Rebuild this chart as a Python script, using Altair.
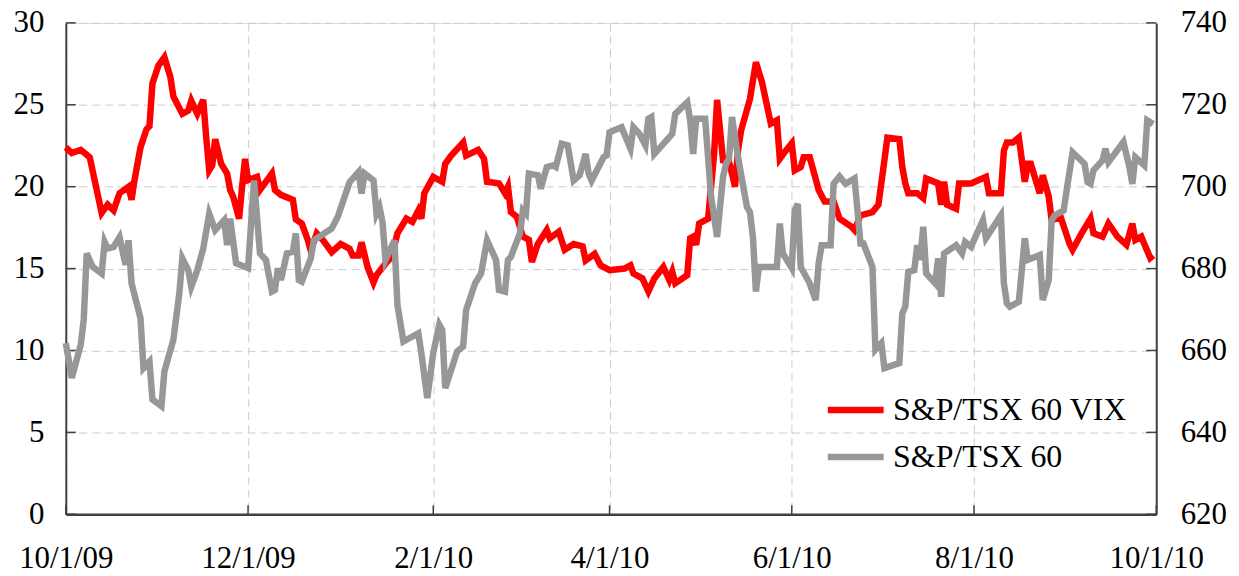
import altair as alt
import pandas as pd

START = "2009-10-01"

# Days since 10/1/09 and values
VIX_DAYS = [0, 2, 5, 8, 12, 14, 16, 18, 21, 22, 23, 25, 27, 28, 29, 31, 33, 35, 36, 39,
            41, 42, 44, 46, 47, 48, 49, 50, 52, 54, 55, 56, 58, 59, 60, 61, 64, 65, 69, 70,
            72, 76, 77, 79, 81, 82, 84, 86, 89, 92, 95, 96, 98, 99, 101, 103, 104, 107, 109, 111,
            114, 116, 118, 119, 120, 123, 126, 127, 129, 133, 134, 138, 140, 141, 145, 147, 148, 149, 151, 153,
            155, 156, 158, 161, 162, 165, 167, 170, 173, 174, 177, 179, 182, 187, 189, 190, 193, 195, 197, 200,
            202, 203, 204, 208, 209, 210, 211, 212, 215, 217, 218, 220, 222, 223, 224, 225, 226, 229, 231, 233,
            236, 238, 239, 241, 243, 244, 246, 247, 249, 252, 254, 257, 259, 263, 264, 266, 270, 272, 274, 275,
            279, 280, 281, 282, 285, 287, 288, 292, 293, 294, 295, 298, 299, 303, 308, 309, 313, 314, 315, 317,
            319, 321, 322, 323, 326, 327, 329, 330, 333, 336, 337, 340, 343, 344, 347, 349, 352, 355, 357, 358,
            360, 361, 363, 364]
VIX_VALUES = [22.4, 22.05, 22.25, 21.8, 18.4, 18.9, 18.55, 19.6, 20.0, 19.2, 20.4, 22.4, 23.5, 23.7, 26.3, 27.4, 27.9, 26.7, 25.5, 24.45,
              24.65, 25.25, 24.45, 25.3, 23.0, 21.0, 21.3, 22.9, 21.4, 20.8, 19.8, 19.4, 18.05, 20.0, 21.7, 20.4, 20.6, 19.8, 20.8, 19.8,
              19.5, 19.2, 18.0, 17.75, 16.75, 16.1, 17.15, 16.75, 16.0, 16.5, 16.2, 15.8, 15.8, 16.6, 15.1, 14.15, 14.6, 15.3, 15.7, 17.15,
              18.05, 17.85, 18.55, 18.05, 19.6, 20.6, 20.3, 21.4, 21.9, 22.7, 21.9, 22.25, 21.7, 20.3, 20.2, 19.6, 20.0, 18.45, 18.15, 16.95,
              16.75, 15.4, 16.5, 17.35, 16.85, 17.25, 16.15, 16.5, 16.35, 15.5, 15.9, 15.2, 14.9, 15.0, 15.2, 14.7, 14.4, 13.6, 14.4, 15.1,
              14.3, 14.8, 14.1, 14.6, 16.85, 16.95, 16.45, 17.75, 18.05, 22.0, 25.3, 21.6, 21.5, 20.8, 20.0, 22.2, 23.4, 25.35, 27.6, 26.4,
              23.85, 24.05, 21.7, 22.2, 22.65, 21.0, 21.2, 21.8, 21.8, 19.8, 19.1, 19.1, 18.05, 17.55, 17.35, 18.25, 18.45, 18.9, 21.6, 23.0,
              22.9, 21.2, 20.2, 19.6, 19.6, 19.3, 20.5, 20.2, 18.9, 20.3, 18.9, 18.65, 20.2, 20.2, 20.6, 19.6, 19.6, 22.2, 22.7, 22.7,
              23.0, 20.3, 21.4, 21.4, 19.6, 20.7, 19.4, 17.95, 18.15, 16.5, 16.15, 17.15, 18.05, 17.15, 16.95, 17.75, 16.95, 16.45, 17.75, 16.75,
              16.95, 16.5, 15.65, 15.8]

TSX_DAYS = [0, 2, 5, 6, 7, 9, 12, 13, 14, 16, 18, 20, 21, 22, 25, 26, 28, 29, 32, 33,
            36, 38, 39, 41, 42, 44, 46, 48, 50, 53, 54, 55, 57, 61, 63, 65, 67, 69, 70, 71,
            72, 74, 76, 77, 78, 79, 82, 83, 89, 91, 95, 98, 99, 100, 103, 104, 105, 106, 107, 108,
            110, 111, 113, 118, 119, 121, 123, 125, 126, 127, 131, 133, 134, 137, 139, 141, 144, 145, 147, 148,
            149, 152, 153, 154, 155, 158, 159, 161, 163, 164, 166, 168, 170, 172, 174, 175, 176, 180, 181, 182,
            186, 189, 190, 192, 194, 195, 196, 197, 203, 204, 208, 209, 210, 211, 214, 216, 218, 220, 221, 222,
            223, 225, 228, 229, 230, 231, 232, 238, 239, 240, 243, 244, 245, 246, 249, 251, 252, 253, 256, 257,
            259, 261, 264, 265, 266, 267, 270, 271, 273, 274, 279, 280, 281, 282, 284, 285, 286, 287, 288, 291,
            292, 293, 294, 298, 300, 301, 303, 305, 307, 308, 313, 314, 315, 316, 319, 321, 322, 326, 327, 329,
            330, 331, 334, 335, 337, 341, 342, 343, 344, 347, 348, 349, 354, 356, 357, 358, 361, 362, 364]
TSX_VALUES = [661.8, 653.3, 661.4, 667.5, 683.7, 680.4, 678.8, 686.5, 684.9, 685.3, 687.7, 680.9, 686.9, 676.4, 667.9, 655.7, 657.3, 648.0, 646.4, 654.9,
              662.6, 674.0, 682.5, 679.6, 675.6, 679.6, 684.9, 693.4, 689.4, 691.8, 685.7, 692.2, 681.3, 680.1, 701.5, 683.7, 682.1, 674.4, 674.8, 680.1,
              677.2, 683.7, 684.1, 688.6, 677.2, 676.8, 682.5, 686.9, 689.8, 692.6, 701.1, 703.6, 698.3, 703.2, 701.5, 693.4, 695.0, 691.4, 682.1, 683.7,
              686.9, 671.1, 662.2, 664.2, 659.4, 648.4, 659.4, 666.3, 665.0, 650.8, 659.8, 661.0, 669.9, 676.4, 678.8, 686.9, 682.1, 674.8, 674.4, 682.1,
              682.9, 688.6, 694.2, 693.4, 703.2, 702.8, 699.5, 704.8, 705.2, 704.8, 710.5, 710.1, 701.5, 702.8, 708.0, 703.2, 701.5, 707.2, 707.6, 713.3,
              714.5, 709.3, 714.5, 712.9, 710.1, 716.6, 717.0, 708.0, 712.9, 717.8, 720.6, 716.2, 708.0, 716.6, 716.6, 697.5, 687.7, 702.4, 705.6, 706.8,
              717.0, 707.2, 695.0, 693.8, 687.7, 674.4, 680.4, 680.4, 691.0, 683.7, 680.1, 694.2, 695.8, 680.4, 676.4, 672.3, 681.3, 685.7, 685.7, 700.7,
              702.5, 700.7, 702.0, 694.2, 686.1, 686.1, 680.4, 660.2, 661.8, 655.7, 656.9, 669.1, 670.7, 679.2, 679.6, 685.7, 682.1, 690.2, 678.8, 676.4,
              682.5, 673.1, 683.7, 685.7, 683.7, 686.5, 685.3, 688.6, 691.8, 687.4, 693.0, 676.4, 671.5, 670.7, 671.9, 687.4, 682.1, 683.3, 672.3, 677.2,
              691.8, 693.0, 694.2, 699.1, 708.4, 705.6, 701.1, 700.7, 704.0, 706.4, 709.3, 706.0, 710.9, 704.8, 700.7, 707.2, 705.2, 716.2, 715.3]

SERIES = ["S&P/TSX 60 VIX", "S&P/TSX 60"]
COLORS = ["#ff0000", "#979797"]
X_TICKS = ["2009-10-01", "2009-12-01", "2010-02-01", "2010-04-01", "2010-06-01", "2010-08-01", "2010-10-01"]
LEFT_TICKS = [0, 5, 10, 15, 20, 25, 30]
RIGHT_TICKS = [620, 640, 660, 680, 700, 720, 740]

W, H = 1094, 493
FONT = "Times New Roman, Liberation Serif, serif"
AXIS_COLOR = "#404040"
GRID_COLOR = "#cccccc"


def to_dates(days):
    base = pd.Timestamp(START)
    return [(base + pd.Timedelta(days=int(d))).strftime("%Y-%m-%dT00:00:00") for d in days]


def dt(s):
    y, m, d = (int(p) for p in s.split("-"))
    return alt.DateTime(year=y, month=m, date=d)


vix_df = pd.DataFrame({"date": to_dates(VIX_DAYS), "vix": VIX_VALUES, "series": SERIES[0]})
tsx_df = pd.DataFrame({"date": to_dates(TSX_DAYS), "tsx": TSX_VALUES, "series": SERIES[1]})
xtick_df = pd.DataFrame({"date": [s + "T00:00:00" for s in X_TICKS]})
ltick_df = pd.DataFrame({"vix": LEFT_TICKS})
rtick_df = pd.DataFrame({"tsx": RIGHT_TICKS})

x_enc = alt.X(
    "date:T",
    scale=alt.Scale(domain=[dt(X_TICKS[0]), dt(X_TICKS[-1])]),
    axis=alt.Axis(
        values=[dt(s) for s in X_TICKS], format="%-m/%-d/%y", title=None,
        grid=True, gridColor=GRID_COLOR, gridDash=[8, 5], gridWidth=1,
        ticks=False, labelPadding=29, labelFlush=False, labelOverlap=False,
        labelFontSize=31, labelFont=FONT, labelColor="#000000",
        domainColor=AXIS_COLOR, domainWidth=2.5,
    ),
)
y_left = alt.Y(
    "vix:Q",
    scale=alt.Scale(domain=[0, 30], nice=False, zero=False),
    axis=alt.Axis(
        values=LEFT_TICKS, title=None, grid=True, gridColor=GRID_COLOR, gridDash=[8, 5], gridWidth=1,
        ticks=False, labelPadding=22, labelFontSize=31, labelFont=FONT, labelColor="#000000",
        domainColor=AXIS_COLOR, domainWidth=2,
    ),
)
y_right = alt.Y(
    "tsx:Q",
    scale=alt.Scale(domain=[620, 740], nice=False, zero=False),
    axis=alt.Axis(
        orient="right", values=RIGHT_TICKS, title=None, grid=False,
        ticks=False, labelPadding=24, labelFontSize=31, labelFont=FONT, labelColor="#000000",
        domainColor=AXIS_COLOR, domainWidth=2,
    ),
)
color_enc = alt.Color(
    "series:N",
    scale=alt.Scale(domain=SERIES, range=COLORS),
    legend=alt.Legend(
        title=None, orient="none", legendX=761, legendY=365,
        symbolType="stroke", symbolSize=3136, symbolStrokeWidth=6.5,
        labelFontSize=32, labelFont=FONT, labelColor="#000000", labelOffset=6, labelLimit=0,
        clipHeight=47, rowPadding=0, padding=0,
    ),
)

vix_line = alt.Chart(vix_df).mark_line(strokeWidth=6.5).encode(x=x_enc, y=y_left, color=color_enc)
tsx_line = alt.Chart(tsx_df).mark_line(strokeWidth=6.5).encode(x=x_enc, y=y_right, color=color_enc)

left_ticks = alt.Chart(ltick_df).mark_rule(color=AXIS_COLOR, strokeWidth=1.5).encode(
    y=y_left, x=alt.value(0), x2=alt.value(10))
right_ticks = alt.Chart(rtick_df).mark_rule(color=AXIS_COLOR, strokeWidth=1.5).encode(
    y=y_right, x=alt.value(W - 10), x2=alt.value(W))
bottom_ticks = alt.Chart(xtick_df).mark_rule(color=AXIS_COLOR, strokeWidth=1.5).encode(
    x=x_enc, y=alt.value(H - 9), y2=alt.value(H))

left_layer = alt.layer(vix_line, left_ticks, bottom_ticks)
right_layer = alt.layer(tsx_line, right_ticks)

chart = (
    alt.layer(left_layer, right_layer)
    .resolve_scale(y="independent")
    .properties(
        width=W, height=H,
        autosize=alt.AutoSizeParams(type="none"),
        padding={"left": 58, "top": 14, "right": 75, "bottom": 61},
    )
    .configure_view(stroke="#8c8c8c", strokeWidth=1.5)
    .configure(background="white")
)

chart.save("out.html", embed_options={"renderer": "svg", "actions": False})
